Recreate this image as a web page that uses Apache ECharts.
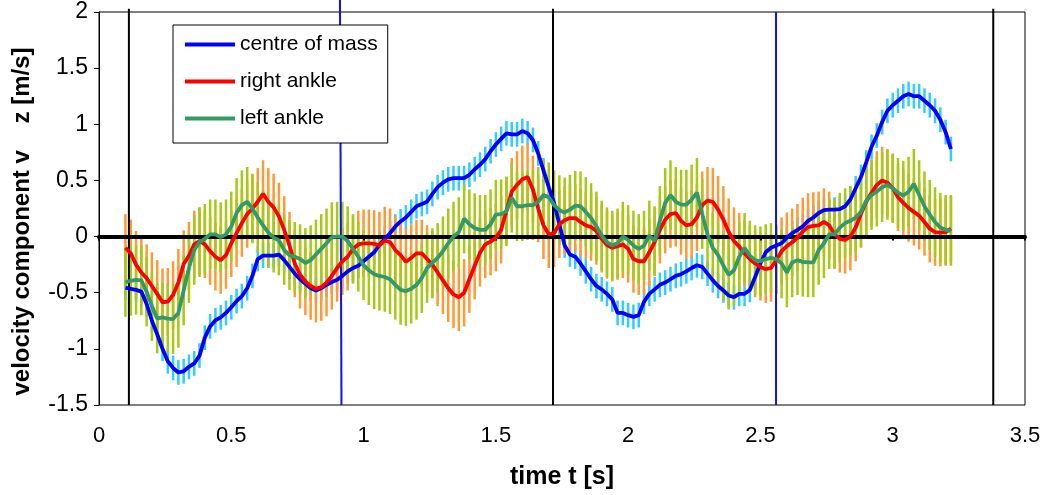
<!DOCTYPE html>
<html>
<head>
<meta charset="utf-8">
<script src="https://cdn.jsdelivr.net/npm/echarts@6/dist/echarts.min.js"></script>
<style>
html,body{margin:0;padding:0;background:#fff;}
#chart{width:1044px;height:495px;}
</style>
</head>
<body>
<div id="chart"></div>
<script>
// sample times [s]
const times = [0.10,0.12,0.14,0.16,0.18,0.20,0.22,0.24,0.26,0.28,
0.30,0.32,0.34,0.36,0.38,0.40,0.42,0.44,0.46,0.48,
0.50,0.52,0.54,0.56,0.58,0.60,0.62,0.64,0.66,0.68,
0.70,0.72,0.74,0.76,0.78,0.80,0.82,0.84,0.86,0.88,
0.90,0.92,0.94,0.96,0.98,1.00,1.02,1.04,1.06,1.08,
1.10,1.12,1.14,1.16,1.18,1.20,1.22,1.24,1.26,1.28,
1.30,1.32,1.34,1.36,1.38,1.40,1.42,1.44,1.46,1.48,
1.50,1.52,1.54,1.56,1.58,1.60,1.62,1.64,1.66,1.68,
1.70,1.72,1.74,1.76,1.78,1.80,1.82,1.84,1.86,1.88,
1.90,1.92,1.94,1.96,1.98,2.00,2.02,2.04,2.06,2.08,
2.10,2.12,2.14,2.16,2.18,2.20,2.22,2.24,2.26,2.28,
2.30,2.32,2.34,2.36,2.38,2.40,2.42,2.44,2.46,2.48,
2.50,2.52,2.54,2.56,2.58,2.60,2.62,2.64,2.66,2.68,
2.70,2.72,2.74,2.76,2.78,2.80,2.82,2.84,2.86,2.88,
2.90,2.92,2.94,2.96,2.98,3.00,3.02,3.04,3.06,3.08,
3.10,3.12,3.14,3.16,3.18,3.20,3.22];

// centre of mass v_z [m/s]
const centreOfMass = [-0.455,-0.465,-0.475,-0.49,-0.60,-0.75,-0.87,-1.00,-1.11,-1.17,
-1.21,-1.20,-1.16,-1.13,-1.06,-0.90,-0.80,-0.745,-0.72,-0.68,
-0.63,-0.575,-0.53,-0.46,-0.35,-0.20,-0.17,-0.17,-0.17,-0.16,
-0.21,-0.27,-0.33,-0.38,-0.42,-0.46,-0.48,-0.46,-0.43,-0.405,
-0.385,-0.35,-0.31,-0.28,-0.26,-0.22,-0.18,-0.14,-0.075,-0.02,
0.03,0.09,0.135,0.17,0.22,0.27,0.29,0.31,0.38,0.44,
0.48,0.51,0.52,0.52,0.52,0.55,0.60,0.64,0.69,0.76,
0.82,0.87,0.92,0.91,0.91,0.94,0.92,0.86,0.74,0.59,
0.44,0.30,0.11,-0.08,-0.16,-0.18,-0.24,-0.31,-0.38,-0.44,
-0.47,-0.51,-0.56,-0.68,-0.68,-0.70,-0.715,-0.70,-0.58,-0.51,
-0.47,-0.43,-0.41,-0.38,-0.35,-0.335,-0.31,-0.28,-0.255,-0.27,
-0.33,-0.39,-0.44,-0.48,-0.525,-0.54,-0.51,-0.51,-0.475,-0.36,
-0.24,-0.14,-0.10,-0.08,-0.06,-0.01,0.03,0.06,0.09,0.14,
0.17,0.21,0.235,0.24,0.24,0.245,0.27,0.33,0.43,0.53,
0.66,0.80,0.90,1.02,1.12,1.17,1.21,1.25,1.27,1.25,
1.25,1.21,1.17,1.12,1.04,0.93,0.78];

// right ankle v_z [m/s]
const rightAnkle = [-0.10,-0.15,-0.25,-0.32,-0.37,-0.44,-0.51,-0.585,-0.58,-0.52,
-0.41,-0.245,-0.17,-0.07,-0.04,-0.07,-0.13,-0.18,-0.21,-0.165,
-0.06,0.03,0.12,0.20,0.25,0.31,0.38,0.31,0.26,0.18,
0.06,-0.08,-0.24,-0.34,-0.40,-0.44,-0.465,-0.45,-0.41,-0.35,
-0.28,-0.22,-0.18,-0.11,-0.07,-0.06,-0.06,-0.065,-0.08,-0.035,
-0.05,-0.12,-0.165,-0.225,-0.19,-0.15,-0.15,-0.20,-0.25,-0.32,
-0.39,-0.46,-0.515,-0.54,-0.50,-0.38,-0.26,-0.145,-0.07,-0.045,
-0.01,0.06,0.23,0.40,0.46,0.51,0.53,0.42,0.25,0.10,
0.02,0.03,0.11,0.145,0.165,0.165,0.13,0.10,0.085,0.05,
-0.02,-0.075,-0.10,-0.085,-0.07,-0.11,-0.20,-0.22,-0.22,-0.14,
-0.05,0.06,0.15,0.20,0.21,0.14,0.10,0.11,0.17,0.28,
0.32,0.31,0.24,0.15,0.04,-0.04,-0.09,-0.15,-0.20,-0.24,
-0.27,-0.29,-0.28,-0.21,-0.13,-0.085,-0.05,-0.01,0.045,0.085,
0.095,0.10,0.13,0.10,0.02,-0.02,-0.03,0.0,0.08,0.20,
0.31,0.39,0.46,0.50,0.48,0.43,0.35,0.30,0.255,0.22,
0.185,0.13,0.07,0.04,0.035,0.04,0.07];

// left ankle v_z [m/s]
const leftAnkle = [-0.405,-0.395,-0.385,-0.39,-0.49,-0.62,-0.73,-0.72,-0.73,-0.735,
-0.68,-0.48,-0.28,-0.12,-0.05,-0.02,0.02,0.02,-0.005,0.02,
0.09,0.21,0.28,0.31,0.25,0.17,0.10,0.035,-0.01,-0.035,
-0.12,-0.165,-0.18,-0.20,-0.235,-0.21,-0.16,-0.11,-0.06,-0.005,
0.0,0.0,-0.04,-0.11,-0.18,-0.255,-0.30,-0.335,-0.35,-0.36,
-0.38,-0.43,-0.475,-0.485,-0.465,-0.43,-0.37,-0.28,-0.235,-0.19,
-0.13,-0.06,0.0,0.04,0.16,0.11,0.075,0.06,0.06,0.11,
0.195,0.20,0.225,0.345,0.27,0.27,0.28,0.28,0.31,0.37,
0.35,0.28,0.235,0.215,0.24,0.275,0.27,0.22,0.165,0.09,
0.01,-0.05,-0.08,-0.06,0.0,-0.03,-0.08,-0.11,-0.08,0.01,
-0.04,0.14,0.30,0.37,0.31,0.285,0.285,0.33,0.39,0.20,
0.02,-0.10,-0.165,-0.26,-0.34,-0.30,-0.18,-0.10,-0.17,-0.21,
-0.22,-0.20,-0.19,-0.20,-0.24,-0.32,-0.23,-0.21,-0.225,-0.23,
-0.23,-0.12,-0.06,0.02,0.02,0.08,0.12,0.14,0.17,0.22,
0.32,0.37,0.40,0.44,0.46,0.43,0.39,0.365,0.40,0.47,
0.37,0.27,0.195,0.13,0.08,0.06,0.05];

// error bar half-lengths [m/s]
const errCentreOfMass = 0.11;
const errRightAnkle = 0.30;
const errLeftAnkle = 0.31;

// vertical event markers [s]
const blackMarkerTimes = [0.113, 1.716, 3.38];
const blueMarkerTimes = [2.559];
const slantedMarker = [[0.9108, 2.11], [0.9165, -1.5]];

const xTicks = [0, 0.5, 1, 1.5, 2, 2.5, 3, 3.5];
const yTicks = [-1.5, -1, -0.5, 0, 0.5, 1, 1.5, 2];

const FONT = "'Liberation Sans', Arial, sans-serif";

function pairs(vals) { return times.map((t, i) => [t, vals[i]]); }
function errData(vals, e) { return times.map((t, i) => [t, vals[i] - e, vals[i] + e]); }
function errSeries(name, vals, e, color) {
  return {
    name: name, type: 'custom', z: 1, silent: true, clip: false,
    data: errData(vals, e), encode: { x: 0, y: [1, 2] },
    renderItem: function (params, api) {
      const p1 = api.coord([api.value(0), api.value(1)]);
      const p2 = api.coord([api.value(0), api.value(2)]);
      return { type: 'line', shape: { x1: p1[0], y1: p1[1], x2: p2[0], y2: p2[1] },
               style: { stroke: color, lineWidth: 2.5 } };
    }
  };
}
function lineSeries(name, vals, color) {
  return { name: name, type: 'line', z: 4, data: pairs(vals), symbol: 'none', color: color,
           lineStyle: { color: color, width: 3.8 }, silent: true };
}
function vline(data, color, width) {
  return { type: 'line', z: 3, data: data, symbol: 'none', clip: false, silent: true,
           lineStyle: { color: color, width: width }, tooltip: { show: false } };
}

const series = [
  errSeries('com err', centreOfMass, errCentreOfMass, '#33CCFF'),
  errSeries('right err', rightAnkle, errRightAnkle, '#FF9933'),
  errSeries('left err', leftAnkle, errLeftAnkle, '#A6C912'),
];
blackMarkerTimes.forEach(t => series.push(vline([[t, -1.5], [t, 2.03]], '#000', 2)));
blueMarkerTimes.forEach(t => series.push(vline([[t, -1.5], [t, 2]], '#1010F0', 2)));
series.push(vline(slantedMarker, '#1010F0', 2));
series.push(lineSeries('centre of mass', centreOfMass, '#0000FF'));
series.push(lineSeries('right ankle', rightAnkle, '#FF0000'));
series.push(lineSeries('left ankle', leftAnkle, '#339966'));

const chart = echarts.init(document.getElementById('chart'), null, { renderer: 'canvas' });
chart.setOption({
  animation: false,
  backgroundColor: '#fff',
  grid: { left: 99, right: 19, top: 12, bottom: 89, show: true, borderColor: '#000', borderWidth: 1, backgroundColor: 'transparent' },
  legend: {
    orient: 'vertical', left: 173, top: 25, z: 10,
    data: ['centre of mass', 'right ankle', 'left ankle'],
    icon: 'rect', itemWidth: 50, itemHeight: 4, itemGap: 16,
    padding: [9, 10, 14, 12],
    backgroundColor: '#fff', borderColor: '#000', borderWidth: 1,
    textStyle: { fontSize: 21, color: '#000', fontFamily: FONT }
  },
  xAxis: [
    { type: 'value', min: 0, max: 3.5, interval: 0.5, position: 'bottom', z: 2,
      axisLine: { show: true, onZero: true, lineStyle: { color: '#000', width: 4 } },
      axisTick: { show: true, length: 4, lineStyle: { color: '#000', width: 2 } },
      axisLabel: { show: false }, splitLine: { show: false } },
    { type: 'value', min: 0, max: 3.5, interval: 0.5, position: 'bottom',
      axisLine: { show: false, onZero: false }, axisTick: { show: false }, splitLine: { show: false },
      axisLabel: { show: true, margin: 20, fontSize: 22, color: '#000', fontFamily: FONT,
                   formatter: v => String(xTicks.find(x => Math.abs(x - v) < 1e-9) ?? v) },
      name: 'time t [s]', nameLocation: 'middle', nameGap: 60,
      nameTextStyle: { fontSize: 25, fontWeight: 'bold', color: '#000', fontFamily: FONT } }
  ],
  yAxis: {
    type: 'value', min: -1.5, max: 2, interval: 0.5,
    axisLine: { show: true, onZero: false, lineStyle: { color: '#000', width: 1 } },
    axisTick: { show: true, length: 5, lineStyle: { color: '#000', width: 1 } },
    splitLine: { show: false },
    axisLabel: { margin: 11, fontSize: 23, color: '#000', fontFamily: FONT,
                 formatter: v => String(yTicks.find(y => Math.abs(y - v) < 1e-9) ?? v) },
    name: 'velocity component v    z [m/s]', nameLocation: 'middle', nameGap: 65, nameRotate: 90,
    nameTextStyle: { fontSize: 24, fontWeight: 'bold', color: '#000', fontFamily: FONT, padding: [0, 26, 0, 0] }
  },
  series: series
});
</script>
</body>
</html>
